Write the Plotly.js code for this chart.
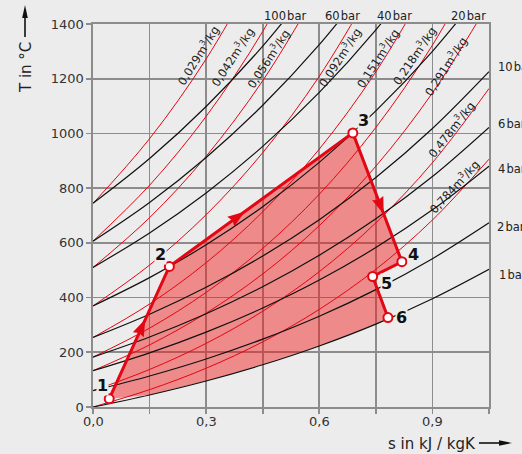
<!DOCTYPE html>
<html><head><meta charset="utf-8">
<script src="https://cdn.plot.ly/plotly-3.0.1.min.js"></script>
<style>html,body{margin:0;padding:0;background:#ececec;} #chart{width:522px;height:454px;}</style>
</head><body><div id="chart"></div>
<script>
// ---- data ----
const sGrid = [0, 0.15, 0.3, 0.45, 0.6, 0.75, 0.9, 1.05];
const xTickText = ['0,0', '', '0,3', '', '0,6', '', '0,9', ''];
const yTicks = [0, 200, 400, 600, 800, 1000, 1200, 1400];

const isobarLabels = ['1\u200Abar', '2\u200Abar', '4\u200Abar', '6\u200Abar', '10\u200Abar', '20\u200Abar', '40\u200Abar', '60\u200Abar', '100\u200Abar'];
const isobarT = [
  [0, 44.0, 95.0, 154.3, 223.1, 302.9, 395.7, 503.3],
  [59.8, 113.4, 175.6, 247.9, 331.7, 429.1, 542.1, 673.3],
  [132.7, 198.0, 273.9, 361.9, 464.1, 582.8, 720.6, 880.5],
  [182.5, 255.8, 341.0, 439.8, 554.6, 687.8, 842.5, 1022.1],
  [254.1, 338.9, 437.4, 551.8, 684.6, 838.8, 1017.8, 1225.5],
  [369.5, 472.9, 593.0, 732.4, 894.3, 1082.2, 1300.3, 1553.6],
  [510.1, 636.2, 782.6, 952.5, 1149.8, 1378.8, 1644.7],
  [606.3, 747.8, 912.2, 1103.0, 1324.5, 1581.6],
  [744.4, 908.2, 1098.4, 1319.1, 1575.4]
];

const isochoreLabels = ['0,784', '0,478', '0,291', '0,218', '0,151', '0,092', '0,056', '0,042', '0,029'];
const isochoreT = [
  [0, 63.5, 141.7, 238.1, 356.8, 503.2, 683.6, 905.9],
  [59.8, 137.2, 232.5, 350.0, 494.7, 673.2, 893.0, 1164.0],
  [132.7, 227.0, 343.2, 486.4, 662.8, 880.3, 1148.3, 1478.5],
  [182.5, 288.3, 418.8, 579.6, 777.7, 1021.8, 1322.7, 1693.5],
  [254.1, 376.5, 527.5, 713.5, 942.8, 1225.3, 1573.4],
  [369.5, 518.8, 702.8, 929.5, 1208.9, 1553.3],
  [510.1, 692.1, 916.4, 1192.7, 1533.3],
  [606.3, 810.6, 1062.4, 1372.7, 1755.1],
  [744.4, 980.8, 1272.2, 1631.2]
];

const cycleLabels = ['1', '2', '3', '4', '5', '6'];
const cycleS = [0.043, 0.2025, 0.689, 0.819, 0.7415, 0.782];
const cycleT = [30, 514, 1002, 531, 477, 327];

// ---- styling / layout ----
const FONT = 'DejaVu Sans, sans-serif';
const RED = '#e30613';
const GRID = '#8c8c8c';
const BG = '#ececec';
const W = 522, H = 454, ML = 93, MR = 33, MT = 24, MB = 47;
const PW = W - ML - MR, PH = H - MT - MB;
const XMAX = 1.05, YMAX = 1400;
const kx = PW / XMAX, ky = PH / YMAX;
const px2paper = (px) => (px - ML) / PW;
const py2paper = (py) => (H - MB - py) / PH;

const traces = [];

// filled cycle area (cycle edges + back along the 1 bar isobar)
const back = [];
for (let i = sGrid.length - 1; i >= 0; i--) {
  if (sGrid[i] > cycleS[0] && sGrid[i] < cycleS[cycleS.length - 1]) back.push(i);
}
traces.push({
  x: cycleS.concat(back.map(i => sGrid[i]), [cycleS[0]]),
  y: cycleT.concat(back.map(i => isobarT[0][i]), [cycleT[0]]),
  mode: 'lines', fill: 'toself', fillcolor: 'rgba(240,22,22,0.46)',
  line: {width: 0}, hoverinfo: 'skip', showlegend: false
});

isochoreT.forEach(T => traces.push({
  x: sGrid.slice(0, T.length), y: T, mode: 'lines',
  line: {color: RED, width: 1, shape: 'spline'}, hoverinfo: 'skip', showlegend: false
}));
isobarT.forEach(T => traces.push({
  x: sGrid.slice(0, T.length), y: T, mode: 'lines',
  line: {color: '#111', width: 1.2, shape: 'spline'}, hoverinfo: 'skip', showlegend: false
}));

traces.push({
  x: cycleS, y: cycleT, mode: 'lines',
  line: {color: RED, width: 3}, hoverinfo: 'skip', showlegend: false
});
traces.push({
  x: cycleS, y: cycleT, mode: 'markers', cliponaxis: false,
  marker: {size: 9, color: '#fff', line: {color: RED, width: 2}},
  hoverinfo: 'skip', showlegend: false
});

// arrow heads on cycle edges: [edge index, fraction of edge at tip]
const arrowSpots = [[0, 0.60], [1, 0.41], [2, 0.63]];
const shapes = [];
function headPath(dx, dy, len, hw, notch) {
  const bx = -dx * len, by = -dy * len;
  const px = -dy * hw, py = dx * hw;
  const nx = -dx * (len - (notch || 0)), ny = -dy * (len - (notch || 0));
  return `M0,0 L${(bx + px).toFixed(2)},${(by + py).toFixed(2)} L${nx.toFixed(2)},${ny.toFixed(2)} L${(bx - px).toFixed(2)},${(by - py).toFixed(2)} Z`;
}
arrowSpots.forEach(([e, f]) => {
  const s0 = cycleS[e], s1 = cycleS[e + 1], t0 = cycleT[e], t1 = cycleT[e + 1];
  const xs = s0 + f * (s1 - s0), ys = t0 + f * (t1 - t0);
  let dx = (s1 - s0) * kx, dy = (t1 - t0) * ky;
  const n = Math.hypot(dx, dy); dx /= n; dy /= n;
  shapes.push({type: 'path', xref: 'x', yref: 'y', xsizemode: 'pixel', ysizemode: 'pixel',
    xanchor: xs, yanchor: ys, path: headPath(dx, dy, 17, 6, 2),
    fillcolor: RED, line: {width: 0}});
});
// axis title arrows
shapes.push({type: 'path', xref: 'paper', yref: 'paper', xsizemode: 'pixel', ysizemode: 'pixel',
  xanchor: px2paper(25), yanchor: py2paper(5),
  path: headPath(0, 1, 13, 2.8, 0), fillcolor: '#111', line: {width: 0}});
shapes.push({type: 'path', xref: 'paper', yref: 'paper', xsizemode: 'pixel', ysizemode: 'pixel',
  xanchor: px2paper(25), yanchor: py2paper(5),
  path: 'M0,-12 L0,-32', line: {width: 1.6, color: '#111'}});
shapes.push({type: 'path', xref: 'paper', yref: 'paper', xsizemode: 'pixel', ysizemode: 'pixel',
  xanchor: px2paper(512), yanchor: py2paper(443),
  path: headPath(1, 0, 13, 2.8, 0), fillcolor: '#111', line: {width: 0}});
shapes.push({type: 'path', xref: 'paper', yref: 'paper', xsizemode: 'pixel', ysizemode: 'pixel',
  xanchor: px2paper(512), yanchor: py2paper(443),
  path: 'M-12,0 L-33,0', line: {width: 1.6, color: '#111'}});

const annotations = [];
// x tick labels
sGrid.forEach((s, i) => {
  if (xTickText[i]) annotations.push({
    x: s, y: py2paper(421), xref: 'x', yref: 'paper', text: xTickText[i], showarrow: false,
    xanchor: 'center', yanchor: 'middle', font: {family: FONT, size: 13, color: '#333'}
  });
});
// cycle point numbers
const labelShift = [[-7, 13], [-9, 12], [11, 12], [12, 7], [14, -7], [14, 0]];
cycleLabels.forEach((t, i) => annotations.push({
  x: cycleS[i], y: cycleT[i], xref: 'x', yref: 'y', text: t, showarrow: false,
  xanchor: 'center', yanchor: 'middle',
  xshift: labelShift[i][0], yshift: labelShift[i][1], bgcolor: BG, borderpad: 0,
  font: {family: FONT, size: 16, weight: 700, color: '#111'}
}));
// isobar labels (pixel positions of the text's left-middle point)
const isobarLabelPx = [
  [497, 275], [495, 227], [496, 169], [496, 124], [496, 67],
  [449, 16], [375, 16], [323, 16], [262, 16]
];
isobarLabels.forEach((t, i) => annotations.push({
  x: px2paper(isobarLabelPx[i][0]), y: py2paper(isobarLabelPx[i][1]), xref: 'paper', yref: 'paper', text: t,
  showarrow: false, xanchor: 'left', yanchor: 'middle',
  font: {family: FONT, size: 11.5, color: '#222'}
}));
// isochore labels
const isochoreLabelPos = [
  [0.959, 805, -47.5], [0.9506, 1014, -52], [0.935, 1246, -57], [0.853, 1284, -56],
  [0.7547, 1275, -57], [0.654, 1279, -57], [0.466, 1273, -57], [0.369, 1279, -57], [0.2795, 1284, -58]
];
isochoreLabels.forEach((t, i) => annotations.push({
  x: isochoreLabelPos[i][0], y: isochoreLabelPos[i][1], xref: 'x', yref: 'y',
  text: t + 'm<sup>3</sup>/kg', textangle: isochoreLabelPos[i][2], showarrow: false,
  xanchor: 'center', yanchor: 'middle',
  font: {family: FONT, size: 11.5, color: '#222'}
}));
// axis titles
annotations.push({xref: 'paper', yref: 'paper', x: px2paper(26), y: py2paper(68),
  xanchor: 'center', yanchor: 'middle',
  text: 'T in °C', textangle: -90, showarrow: false, font: {family: FONT, size: 15, color: '#222'}});
annotations.push({xref: 'paper', yref: 'paper', x: px2paper(432), y: py2paper(444),
  xanchor: 'center', yanchor: 'middle',
  text: 's in kJ / kgK', showarrow: false, font: {family: FONT, size: 15, color: '#222'}});

const axisCommon = {
  ticks: 'outside', ticklen: 5, tickwidth: 1.6, tickcolor: GRID,
  showgrid: true, gridcolor: GRID, gridwidth: 1.6,
  showline: true, linecolor: GRID, linewidth: 1.6, mirror: true,
  zeroline: false, fixedrange: true,
  tickfont: {family: FONT, size: 13, color: '#333'}
};
const layout = {
  width: W, height: H, margin: {l: ML, r: MR, t: MT, b: MB},
  paper_bgcolor: BG, plot_bgcolor: BG, showlegend: false, hovermode: false,
  xaxis: Object.assign({}, axisCommon, {range: [0, XMAX], tickmode: 'array', tickvals: sGrid, showticklabels: false}),
  yaxis: Object.assign({}, axisCommon, {range: [0, YMAX], tickmode: 'array', tickvals: yTicks, ticktext: yTicks.map(String)}),
  shapes: shapes, annotations: annotations
};
Plotly.newPlot('chart', traces, layout, {staticPlot: true, displayModeBar: false});
</script></body></html>
